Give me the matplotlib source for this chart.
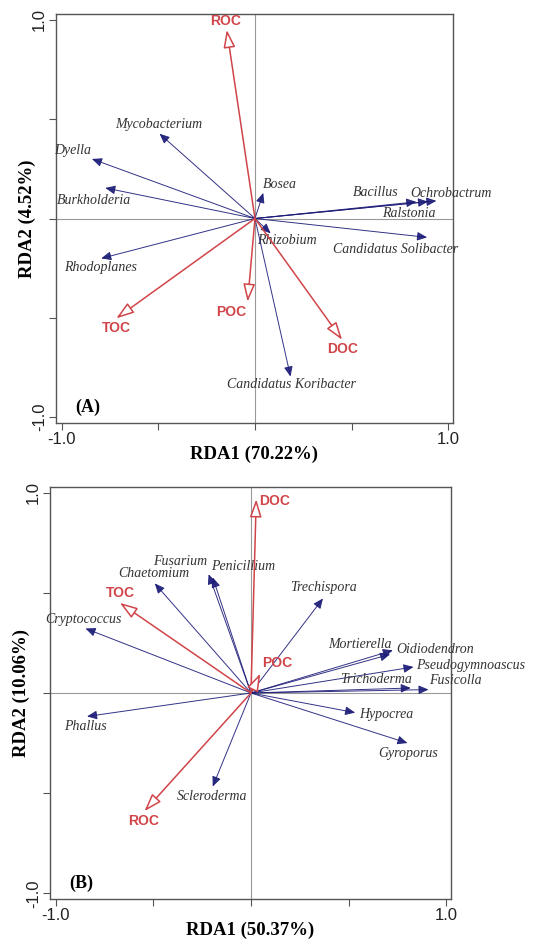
import numpy as np
import matplotlib.pyplot as plt

# ---- panel A: bacteria ----
a_env = ['ROC', 'TOC', 'POC', 'DOC']
a_env_x = [-0.146, -0.718, -0.038, 0.451]
a_env_y = [0.950, -0.503, -0.419, -0.611]

a_taxa = ['Mycobacterium', 'Dyella', 'Burkholderia', 'Rhodoplanes', 'Bosea',
          'Bacillus', 'Ochrobactrum', 'Ralstonia', 'Candidatus Solibacter',
          'Rhizobium', 'Candidatus Koribacter']
a_taxa_x = [-0.494, -0.844, -0.775, -0.796, 0.043, 0.835, 0.939, 0.896, 0.891, 0.081, 0.184]
a_taxa_y = [0.427, 0.300, 0.154, -0.201, 0.129, 0.084, 0.089, 0.085, -0.095, -0.075, -0.796]

# ---- panel B: fungi ----
b_env = ['DOC', 'TOC', 'POC', 'ROC']
b_env_x = [0.027, -0.672, 0.048, -0.546]
b_env_y = [0.967, 0.450, 0.097, -0.590]

b_taxa = ['Chaetomium', 'Fusarium', 'Penicillium', 'Trechispora', 'Cryptococcus',
          'Mortierella', 'Oidiodendron', 'Pseudogymnoascus', 'Trichoderma',
          'Fusicolla', 'Hypocrea', 'Gyroporus', 'Phallus', 'Scleroderma']
b_taxa_x = [-0.493, -0.217, -0.196, 0.369, -0.848, 0.727, 0.713, 0.833, 0.819,
            0.910, 0.534, 0.802, -0.840, -0.196]
b_taxa_y = [0.547, 0.593, 0.577, 0.472, 0.322, 0.213, 0.193, 0.130, 0.025,
            0.017, -0.098, -0.250, -0.117, -0.467]

# label placement (biplot units)
a_env_lab = [(-0.152, 0.993), (-0.72, -0.553), (-0.121, -0.472), (0.451, -0.657)]
a_taxa_lab = [(-0.50, 0.474), (-0.942, 0.343), (-0.835, 0.092), (-0.801, -0.246),
              (0.129, 0.173), (0.624, 0.129), (1.013, 0.126), (0.796, 0.025),
              (0.727, -0.154), (0.167, -0.112), (0.189, -0.838)]
b_env_lab = [(0.121, 0.96), (-0.669, 0.50), (0.133, 0.15), (-0.549, -0.64)]
b_taxa_lab = [(-0.498, 0.597), (-0.365, 0.655), (-0.041, 0.633), (0.372, 0.527),
              (-0.857, 0.368), (0.56, 0.243), (0.944, 0.218), (1.123, 0.135),
              (0.642, 0.068), (1.049, 0.063), (0.693, -0.107), (0.807, -0.303),
              (-0.848, -0.167), (-0.20, -0.515)]

RED = '#d0454a'
NAVY = '#1c1c78'
SERIF = 'Liberation Serif'
SANS = 'Liberation Sans'


def biplot(ax, env, ex, ey, env_lab, taxa, tx, ty, taxa_lab, xlabel, ylabel, tag):
    ax.set_xlim(-1.03, 1.025)
    ax.set_ylim(-1.03, 1.03)
    ax.axhline(0, color='#999999', lw=0.8, zorder=0)
    ax.axvline(0, color='#999999', lw=0.8, zorder=0)

    for name, x, y, (lx, ly) in zip(taxa, tx, ty, taxa_lab):
        ax.annotate('', xy=(x, y), xytext=(0, 0),
                    arrowprops=dict(arrowstyle='-|>,head_length=0.5,head_width=0.22',
                                    color=NAVY, lw=0.7, alpha=0.9,
                                    shrinkA=0, shrinkB=0, mutation_scale=12))
        ax.text(lx, ly, name, ha='center', va='center', style='italic',
                family=SERIF, fontsize=10, color='#333333')

    for name, x, y, (lx, ly) in zip(env, ex, ey, env_lab):
        ax.annotate('', xy=(x, y), xytext=(0, 0),
                    arrowprops=dict(arrowstyle='-|>,head_length=0.9,head_width=0.3',
                                    fc='white', ec=RED, lw=1.1,
                                    shrinkA=0, shrinkB=0, mutation_scale=12))
        ax.text(lx, ly, name, ha='center', va='center', fontweight='bold',
                family=SANS, fontsize=10, color=RED)

    ax.set_xticks([-1, -0.5, 0, 0.5, 1])
    ax.set_xticklabels(['-1.0', '', '', '', '1.0'])
    ax.set_yticks([-1, -0.5, 0, 0.5, 1])
    ax.set_yticklabels(['-1.0', '', '', '', '1.0'], rotation=90, va='center')
    ax.tick_params(direction='out', length=5, width=0.8, color='#555555',
                   labelsize=12, labelcolor='#222222', pad=1.5)
    for lab in ax.get_xticklabels() + ax.get_yticklabels():
        lab.set_family(SANS)
    for sp in ax.spines.values():
        sp.set_color('#555555')
        sp.set_linewidth(1.0)

    ax.set_xlabel(xlabel, family=SERIF, fontweight='bold', fontsize=13.5, labelpad=-1)
    ax.set_ylabel(ylabel, family=SERIF, fontweight='bold', fontsize=13.5, labelpad=-3)
    ax.text(-0.93, -0.95, tag, family=SERIF, fontweight='bold', fontsize=13,
            ha='left', va='center')


fig = plt.figure(figsize=(5.41, 9.41), dpi=100)
ax1 = fig.add_axes([0.1035, 0.5505, 0.7338, 0.4346])
ax2 = fig.add_axes([0.0924, 0.0443, 0.7412, 0.4385])

biplot(ax1, a_env, a_env_x, a_env_y, a_env_lab, a_taxa, a_taxa_x, a_taxa_y,
       a_taxa_lab, 'RDA1 (70.22%)', 'RDA2 (4.52%)', '(A)')
biplot(ax2, b_env, b_env_x, b_env_y, b_env_lab, b_taxa, b_taxa_x, b_taxa_y,
       b_taxa_lab, 'RDA1 (50.37%)', 'RDA2 (10.06%)', '(B)')

fig.savefig('out.png', dpi=100)
